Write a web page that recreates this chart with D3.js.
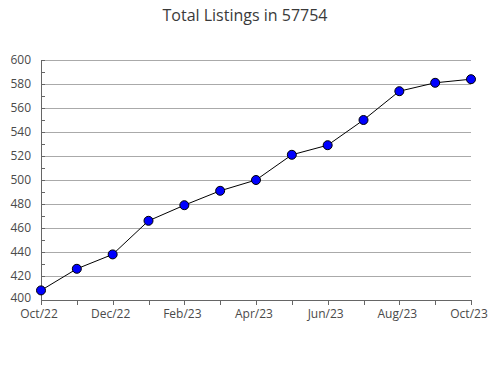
<!DOCTYPE html>
<html lang="en">
<head>
<meta charset="UTF-8">
<title>Total Listings in 57754</title>
<script src="https://d3js.org/d3.v7.min.js"></script>
<style>
    body, html { margin: 0; padding: 0; overflow: hidden; background: #fff; }
    svg { display: block; font-family: "Open Sans", sans-serif; }
</style>
</head>
<body>
<svg width="490" height="380"></svg>
<script>
    const months = ["Oct/22","Nov/22","Dec/22","Jan/23","Feb/23","Mar/23","Apr/23",
                    "May/23","Jun/23","Jul/23","Aug/23","Sep/23","Oct/23"];
    const listings = [408, 426, 438, 466, 479, 491, 500, 521, 529, 550, 574, 581, 584];
    const yTicks = [400, 420, 440, 460, 480, 500, 520, 540, 560, 580, 600];
    const title = "Total Listings in 57754";

    const svg = d3.select("svg");
    const plotLeft = 41, plotRight = 471, plotTop = 60, plotBottom = 300;

    const x = d3.scalePoint().domain(months).range([plotLeft, plotRight]);
    const y = d3.scaleLinear().domain([400, 600]).range([plotBottom, plotTop]);

    svg.append("text")
        .attr("x", 245).attr("y", 21)
        .attr("text-anchor", "middle")
        .attr("font-size", 16)
        .attr("fill", "#3a3a3a")
        .text(title);

    // gridlines
    svg.append("g").selectAll("line")
        .data(yTicks.slice(1))
        .join("line")
        .attr("x1", plotLeft).attr("x2", plotRight)
        .attr("y1", d => y(d)).attr("y2", d => y(d))
        .attr("stroke", "#aaa").attr("stroke-width", 1)
        .attr("shape-rendering", "crispEdges");

    // minor y ticks
    svg.append("g").selectAll("line")
        .data(d3.range(400, 601, 10))
        .join("line")
        .attr("x1", plotLeft).attr("x2", plotLeft + 4)
        .attr("y1", d => y(d)).attr("y2", d => y(d))
        .attr("stroke", "#666")
        .attr("shape-rendering", "crispEdges");

    // y axis
    const yAxis = svg.append("g")
        .attr("transform", `translate(${plotLeft},0)`)
        .call(d3.axisLeft(y).tickValues(yTicks).tickSize(0).tickPadding(10));
    yAxis.select(".domain").attr("stroke", "#666").attr("shape-rendering", "crispEdges");
    yAxis.selectAll("text").attr("font-size", 12).attr("fill", "#4a4a4a")
        .attr("font-family", "Open Sans, sans-serif")
        .attr("dy", d => d === 400 ? "0.1em" : "0.32em");

    // x axis
    const xAxis = svg.append("g")
        .attr("transform", `translate(0,${plotBottom})`)
        .call(d3.axisBottom(x).tickSize(5).tickPadding(4)
            .tickFormat((d, i) => i % 2 === 0 ? d : ""));
    xAxis.select(".domain").attr("stroke", "#666").attr("shape-rendering", "crispEdges");
    xAxis.selectAll(".tick line").attr("stroke", "#666").attr("shape-rendering", "crispEdges");
    xAxis.selectAll("text").attr("font-size", 12).attr("fill", "#4a4a4a")
        .attr("font-family", "Open Sans, sans-serif")
        .attr("dx", -2.5);

    // line
    svg.append("path")
        .datum(listings)
        .attr("fill", "none")
        .attr("stroke", "#000")
        .attr("stroke-width", 1)
        .attr("d", d3.line().x((d, i) => x(months[i])).y(d => y(d)));

    svg.append("g").selectAll("circle")
        .data(listings)
        .join("circle")
        .attr("cx", (d, i) => x(months[i]))
        .attr("cy", d => y(d))
        .attr("r", 4.5)
        .attr("fill", "#0000ff")
        .attr("stroke", "#000")
        .attr("stroke-width", 1);
</script>
</body>
</html>
